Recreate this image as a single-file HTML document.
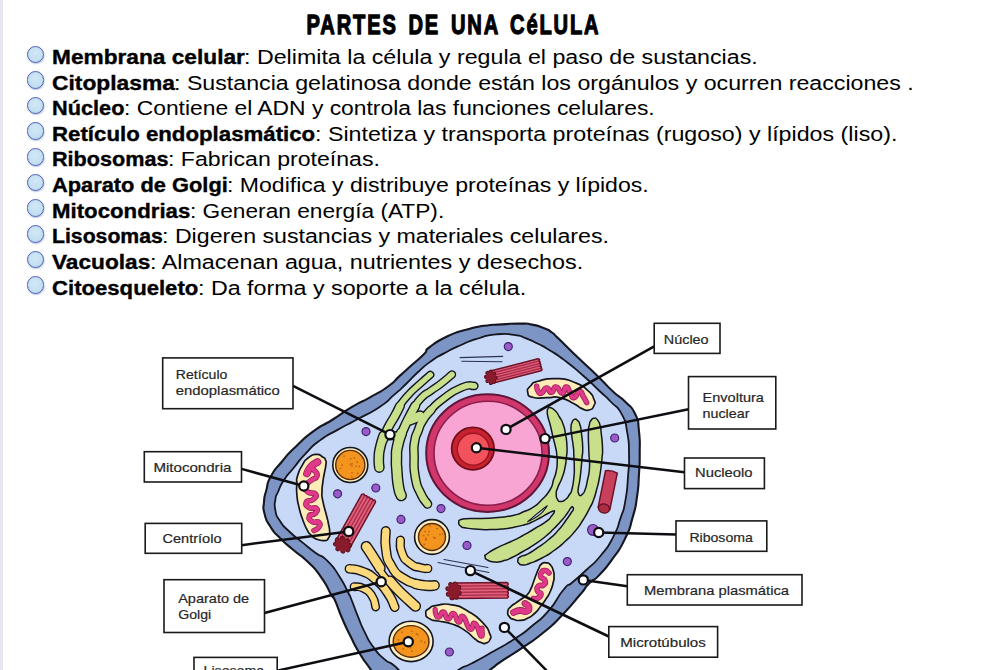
<!DOCTYPE html>
<html lang="es"><head><meta charset="utf-8"><title>Partes de una célula</title>
<style>
html,body{margin:0;padding:0;background:#fff}
#pg{position:relative;width:999px;height:670px;overflow:hidden;background:#fff;font-family:"Liberation Sans",sans-serif;color:#000}
#strip{position:absolute;left:0;top:0;width:3px;height:670px;background:#e6e7ee}
.ln{position:absolute;left:51.6px;height:26px;line-height:26px;font-size:19.5px;white-space:pre}
.ln span{position:absolute;top:0;display:block;transform-origin:0 50%;white-space:pre}
.ln b{font-weight:bold;-webkit-text-stroke:0.35px #000}
.bu{position:absolute;left:26.6px;width:15.6px;height:15.6px;border-radius:50%;border:1.1px solid #4f5bb3;background:radial-gradient(circle at 50% 40%,#d2e9f6,#b9d9ee);box-shadow:0.5px 1px 1.5px rgba(120,150,200,.6)}
</style></head>
<body>
<div id="pg">
<div id="strip"></div>
<div class="bu" style="top:45.60px"></div><div class="ln" style="top:43.99px"><span style="left:0;transform:scaleX(1.1633)"><b>Membrana celular</b></span><span style="left:192.9px;transform:scaleX(1.1908)">: Delimita la célula y regula el paso de sustancias.</span></div>
<div class="bu" style="top:71.22px"></div><div class="ln" style="top:69.61px"><span style="left:0;transform:scaleX(1.1693)"><b>Citoplasma</b></span><span style="left:122.9px;transform:scaleX(1.1888)">: Sustancia gelatinosa donde están los orgánulos y ocurren reacciones .</span></div>
<div class="bu" style="top:96.84px"></div><div class="ln" style="top:95.23px"><span style="left:0;transform:scaleX(1.1136)"><b>Núcleo</b></span><span style="left:72.4px;transform:scaleX(1.1713)">: Contiene el ADN y controla las funciones celulares.</span></div>
<div class="bu" style="top:122.46px"></div><div class="ln" style="top:120.85px"><span style="left:0;transform:scaleX(1.1404)"><b>Retículo endoplasmático</b></span><span style="left:263.2px;transform:scaleX(1.1915)">: Sintetiza y transporta proteínas (rugoso) y lípidos (liso).</span></div>
<div class="bu" style="top:148.08px"></div><div class="ln" style="top:146.47px"><span style="left:0;transform:scaleX(1.1084)"><b>Ribosomas</b></span><span style="left:116.5px;transform:scaleX(1.1848)">: Fabrican proteínas.</span></div>
<div class="bu" style="top:173.70px"></div><div class="ln" style="top:172.09px"><span style="left:0;transform:scaleX(1.1190)"><b>Aparato de Golgi</b></span><span style="left:175.8px;transform:scaleX(1.1826)">: Modifica y distribuye proteínas y lípidos.</span></div>
<div class="bu" style="top:199.32px"></div><div class="ln" style="top:197.71px"><span style="left:0;transform:scaleX(1.1397)"><b>Mitocondrias</b></span><span style="left:138.3px;transform:scaleX(1.1630)">: Generan energía (ATP).</span></div>
<div class="bu" style="top:224.94px"></div><div class="ln" style="top:223.33px"><span style="left:0;transform:scaleX(1.0876)"><b>Lisosomas</b></span><span style="left:110.8px;transform:scaleX(1.1885)">: Digeren sustancias y materiales celulares.</span></div>
<div class="bu" style="top:250.56px"></div><div class="ln" style="top:248.95px"><span style="left:0;transform:scaleX(1.1625)"><b>Vacuolas</b></span><span style="left:98.3px;transform:scaleX(1.1964)">: Almacenan agua, nutrientes y desechos.</span></div>
<div class="bu" style="top:276.18px"></div><div class="ln" style="top:274.57px"><span style="left:0;transform:scaleX(1.1347)"><b>Citoesqueleto</b></span><span style="left:146.3px;transform:scaleX(1.1922)">: Da forma y soporte a la célula.</span></div>
<svg id="dg" width="999" height="670" viewBox="0 0 999 670" style="position:absolute;left:0;top:0">
<path d="M430.0,346.8 C438.0,340.8 436.0,341.7 448.0,336.0 C460.0,330.3 454.0,333.2 466.0,329.8 C478.0,326.4 472.0,327.6 484.0,325.8 C496.0,324.0 490.0,325.1 502.0,324.4 C514.0,323.7 510.0,323.5 520.0,323.6 C530.0,323.7 524.0,323.1 532.0,324.6 C540.0,326.1 537.3,325.6 544.0,328.2 C550.7,330.8 547.0,328.9 552.0,332.5 C557.0,336.1 550.2,330.5 559.0,339.0 C567.8,347.5 565.5,345.5 578.5,358.0 C591.5,370.5 586.5,365.3 598.0,376.5 C609.5,387.7 603.8,383.0 613.0,391.5 C622.2,400.0 618.1,394.4 625.5,402.0 C632.9,409.6 630.8,404.8 635.3,414.3 C639.8,423.8 637.4,417.3 638.9,430.5 C640.4,443.7 639.7,438.9 639.7,453.8 C639.7,468.7 639.8,461.0 638.9,475.3 C638.0,489.6 639.1,482.6 637.0,496.8 C634.9,511.0 636.5,503.9 632.5,517.9 C628.5,531.9 631.5,525.4 625.0,538.8 C618.5,552.2 621.4,546.3 613.0,558.2 C604.6,570.1 607.7,566.1 599.7,574.6 C591.7,583.1 595.6,576.9 589.0,583.6 C582.4,590.3 589.0,584.3 580.0,594.8 C571.0,605.3 574.1,602.8 562.1,615.2 C550.1,627.6 557.3,621.2 544.1,632.0 C530.9,642.8 536.5,638.1 522.5,647.7 C508.5,657.3 512.8,653.5 502.0,660.9 C491.2,668.3 500.7,661.9 490.0,669.9 C479.3,677.9 505.0,678.3 470.0,685.0 C435.0,691.7 418.1,695.1 385.0,690.0 C351.9,684.9 379.1,681.7 370.8,669.7 C362.5,657.7 366.8,665.2 360.0,654.0 C353.2,642.8 356.4,648.0 350.4,636.0 C344.4,624.0 347.2,630.0 342.0,618.0 C336.8,606.0 338.5,607.9 334.8,600.0 C331.1,592.1 335.5,601.9 331.0,594.4 C326.5,586.9 329.1,588.4 321.4,577.6 C313.7,566.8 317.3,571.2 308.0,562.0 C298.7,552.8 302.7,558.0 293.4,550.0 C284.1,542.0 287.6,545.7 280.0,538.0 C272.4,530.3 275.7,535.0 270.6,527.0 C265.5,519.0 266.8,522.3 264.6,514.0 C262.4,505.7 263.4,510.0 264.0,502.0 C264.6,494.0 264.1,498.5 266.4,490.0 C268.7,481.5 265.7,485.8 270.8,476.5 C275.9,467.2 273.2,472.0 281.6,462.0 C290.0,452.0 285.2,456.8 296.0,446.4 C306.8,436.0 302.0,439.6 314.0,430.8 C326.0,422.0 319.3,428.0 332.0,420.0 C344.7,412.0 339.3,414.5 352.0,406.9 C364.7,399.3 358.0,404.1 370.0,397.3 C382.0,390.5 378.0,393.7 388.0,386.5 C398.0,379.3 392.0,382.8 400.0,375.6 C408.0,368.4 404.1,372.0 412.1,364.8 C420.1,357.6 418.1,360.0 424.1,354.0 C430.1,348.0 422.0,352.8 430.0,346.8 Z" fill="#7d95c5" stroke="#15161f" stroke-width="2.1" stroke-linejoin="round"/>
<path d="M431.0,361.2 C439.6,355.0 434.3,358.6 444.0,353.4 C453.7,348.2 448.7,350.5 460.0,345.5 C471.3,340.5 466.0,342.2 478.0,338.5 C490.0,334.8 484.0,335.6 496.0,334.4 C508.0,333.2 504.0,333.5 514.0,334.8 C524.0,336.1 518.0,335.4 526.0,338.4 C534.0,341.4 530.0,339.8 538.0,343.8 C546.0,347.8 540.8,344.8 550.0,350.5 C559.2,356.2 554.5,352.7 565.5,361.0 C576.5,369.3 571.8,365.7 583.0,375.5 C594.2,385.3 589.7,381.7 599.0,390.5 C608.3,399.3 603.4,394.1 611.0,402.0 C618.6,409.9 616.4,404.2 621.8,414.3 C627.2,424.4 624.8,419.1 627.2,432.3 C629.6,445.5 628.7,439.5 629.0,453.8 C629.3,468.1 629.3,459.8 628.1,475.3 C626.9,490.8 627.9,486.2 625.4,500.4 C622.9,514.6 624.7,505.6 620.6,517.9 C616.5,530.2 619.5,524.9 613.0,537.3 C606.5,549.7 609.9,544.3 601.0,555.2 C592.1,566.1 595.7,561.1 586.3,570.0 C576.9,578.9 580.5,575.3 572.8,582.0 C565.1,588.7 571.3,580.5 563.3,590.0 C555.3,599.5 559.3,598.4 548.9,610.4 C538.5,622.4 543.6,616.4 532.0,626.0 C520.4,635.6 526.8,630.8 514.0,639.2 C501.2,647.6 507.6,643.3 493.6,651.3 C479.6,659.3 483.5,657.2 472.0,663.3 C460.5,669.4 469.0,663.3 459.0,669.5 C449.0,675.7 456.7,675.8 442.0,682.0 C427.3,688.2 429.9,692.5 415.0,688.0 C400.1,683.5 407.6,678.2 397.3,668.5 C387.0,658.8 392.0,666.1 384.0,658.9 C376.0,651.7 379.6,655.6 373.2,646.8 C366.8,638.0 370.0,642.8 364.8,632.4 C359.6,622.0 362.0,626.4 357.6,615.6 C353.2,604.8 354.8,607.9 351.6,600.0 C348.4,592.1 352.0,599.9 347.9,592.0 C343.8,584.1 346.2,586.8 339.4,576.4 C332.6,566.0 335.5,568.8 327.4,560.8 C319.3,552.8 323.1,558.5 315.0,552.5 C306.9,546.5 311.4,549.7 303.0,542.9 C294.6,536.1 297.5,539.3 289.8,532.0 C282.1,524.7 284.8,528.2 280.0,521.0 C275.2,513.8 276.9,517.5 275.4,510.4 C273.9,503.3 274.5,505.7 275.4,499.6 C276.3,493.5 275.1,498.5 278.0,492.0 C280.9,485.5 278.8,488.0 284.0,480.0 C289.2,472.0 286.4,476.8 293.6,468.0 C300.8,459.2 296.8,462.8 305.6,453.6 C314.4,444.4 309.2,448.4 320.0,440.4 C330.8,432.4 326.0,436.4 338.0,429.6 C350.0,422.8 342.1,427.6 356.0,420.0 C369.9,412.4 366.9,415.3 379.6,406.9 C392.3,398.5 385.2,402.5 394.0,394.9 C402.8,387.3 398.0,391.6 406.0,384.0 C414.0,376.4 409.8,379.6 418.1,372.0 C426.4,364.4 422.4,367.4 431.0,361.2 Z" fill="#c8d9f7" stroke="#15161f" stroke-width="1.8" stroke-linejoin="round"/>
<path d="M430.3,374.8 C427.5,377.3 429.7,375.0 421.8,382.3 C413.9,389.6 414.6,387.8 406.7,396.7 C398.8,405.6 400.9,404.9 398.0,409.0" fill="none" stroke="#15161f" stroke-width="8.2" stroke-linecap="round" stroke-linejoin="round"/>
<path d="M400.0,406.0 C398.3,409.3 399.0,408.5 395.0,415.8 C391.0,423.1 392.0,419.9 388.0,428.0 C384.0,436.1 384.7,436.0 383.0,440.0" fill="none" stroke="#15161f" stroke-width="10.0" stroke-linecap="round" stroke-linejoin="round"/>
<path d="M383.5,436.0 C382.4,439.7 381.9,439.7 380.3,447.0 C378.7,454.3 379.1,451.2 378.8,458.0 C378.5,464.8 379.1,464.3 379.3,467.5" fill="none" stroke="#15161f" stroke-width="10.8" stroke-linecap="round" stroke-linejoin="round"/>
<path d="M452.0,374.5 C448.5,377.4 448.4,377.8 441.5,383.2 C434.6,388.6 438.0,385.7 431.2,390.6 C424.4,395.5 427.1,391.9 421.2,398.0 C415.3,404.1 416.0,405.3 413.4,409.0" fill="none" stroke="#15161f" stroke-width="8.4" stroke-linecap="round" stroke-linejoin="round"/>
<path d="M415.2,406.0 C412.8,410.5 412.5,410.5 408.0,419.5 C403.5,428.5 403.9,428.5 401.8,433.0" fill="none" stroke="#15161f" stroke-width="10.2" stroke-linecap="round" stroke-linejoin="round"/>
<path d="M401.5,433.0 C400.2,437.3 399.3,437.7 397.6,446.0 C395.9,454.3 396.7,449.3 396.5,458.0 C396.3,466.7 396.3,462.3 397.0,472.0 C397.7,481.7 397.2,479.2 398.6,487.0 C400.0,494.8 400.3,492.7 401.2,495.5" fill="none" stroke="#15161f" stroke-width="11.6" stroke-linecap="round" stroke-linejoin="round"/>
<path d="M474.3,385.9 C470.0,386.5 472.1,383.1 461.4,387.6 C450.7,392.1 452.8,391.7 442.3,399.5 C431.8,407.3 434.1,407.2 430.0,411.0" fill="none" stroke="#15161f" stroke-width="8.6" stroke-linecap="round" stroke-linejoin="round"/>
<path d="M431.0,410.0 C428.3,413.3 427.3,413.0 423.0,420.0 C418.7,427.0 420.8,423.7 418.0,431.0 C415.2,438.3 415.9,433.7 414.6,442.0 C413.3,450.3 413.9,444.4 414.1,456.0 C414.3,467.6 413.1,464.4 415.2,476.7 C417.3,489.0 416.4,483.9 420.5,493.0 C424.6,502.1 425.2,500.3 427.5,504.0" fill="none" stroke="#15161f" stroke-width="9.6" stroke-linecap="round" stroke-linejoin="round"/>
<path d="M386.0,436.0 C390.3,435.8 394.7,435.7 399.0,435.5" fill="none" stroke="#15161f" stroke-width="8.8" stroke-linecap="round" stroke-linejoin="round"/>
<path d="M410.0,420.0 C413.3,418.7 416.7,417.3 420.0,416.0" fill="none" stroke="#15161f" stroke-width="11.4" stroke-linecap="round" stroke-linejoin="round"/>
<path d="M430.3,374.8 C427.5,377.3 429.7,375.0 421.8,382.3 C413.9,389.6 414.6,387.8 406.7,396.7 C398.8,405.6 400.9,404.9 398.0,409.0" fill="none" stroke="#c8df8b" stroke-width="5.4" stroke-linecap="round" stroke-linejoin="round"/>
<path d="M400.0,406.0 C398.3,409.3 399.0,408.5 395.0,415.8 C391.0,423.1 392.0,419.9 388.0,428.0 C384.0,436.1 384.7,436.0 383.0,440.0" fill="none" stroke="#c8df8b" stroke-width="7.2" stroke-linecap="round" stroke-linejoin="round"/>
<path d="M383.5,436.0 C382.4,439.7 381.9,439.7 380.3,447.0 C378.7,454.3 379.1,451.2 378.8,458.0 C378.5,464.8 379.1,464.3 379.3,467.5" fill="none" stroke="#c8df8b" stroke-width="8.0" stroke-linecap="round" stroke-linejoin="round"/>
<path d="M452.0,374.5 C448.5,377.4 448.4,377.8 441.5,383.2 C434.6,388.6 438.0,385.7 431.2,390.6 C424.4,395.5 427.1,391.9 421.2,398.0 C415.3,404.1 416.0,405.3 413.4,409.0" fill="none" stroke="#c8df8b" stroke-width="5.6" stroke-linecap="round" stroke-linejoin="round"/>
<path d="M415.2,406.0 C412.8,410.5 412.5,410.5 408.0,419.5 C403.5,428.5 403.9,428.5 401.8,433.0" fill="none" stroke="#c8df8b" stroke-width="7.4" stroke-linecap="round" stroke-linejoin="round"/>
<path d="M401.5,433.0 C400.2,437.3 399.3,437.7 397.6,446.0 C395.9,454.3 396.7,449.3 396.5,458.0 C396.3,466.7 396.3,462.3 397.0,472.0 C397.7,481.7 397.2,479.2 398.6,487.0 C400.0,494.8 400.3,492.7 401.2,495.5" fill="none" stroke="#c8df8b" stroke-width="8.8" stroke-linecap="round" stroke-linejoin="round"/>
<path d="M474.3,385.9 C470.0,386.5 472.1,383.1 461.4,387.6 C450.7,392.1 452.8,391.7 442.3,399.5 C431.8,407.3 434.1,407.2 430.0,411.0" fill="none" stroke="#c8df8b" stroke-width="5.8" stroke-linecap="round" stroke-linejoin="round"/>
<path d="M431.0,410.0 C428.3,413.3 427.3,413.0 423.0,420.0 C418.7,427.0 420.8,423.7 418.0,431.0 C415.2,438.3 415.9,433.7 414.6,442.0 C413.3,450.3 413.9,444.4 414.1,456.0 C414.3,467.6 413.1,464.4 415.2,476.7 C417.3,489.0 416.4,483.9 420.5,493.0 C424.6,502.1 425.2,500.3 427.5,504.0" fill="none" stroke="#c8df8b" stroke-width="6.8" stroke-linecap="round" stroke-linejoin="round"/>
<path d="M386.0,436.0 C390.3,435.8 394.7,435.7 399.0,435.5" fill="none" stroke="#c8df8b" stroke-width="6.0" stroke-linecap="round" stroke-linejoin="round"/>
<path d="M410.0,420.0 C413.3,418.7 416.7,417.3 420.0,416.0" fill="none" stroke="#c8df8b" stroke-width="8.6" stroke-linecap="round" stroke-linejoin="round"/>
<path d="M549.8,407.5 C552.1,408.1 551.8,407.3 555.0,410.5 C558.2,413.7 556.8,412.5 559.5,417.0 C562.2,421.5 561.0,418.3 563.0,424.0 C565.0,429.7 564.2,426.3 565.5,434.0 C566.8,441.7 566.7,439.0 567.0,447.0 C567.3,455.0 567.0,451.2 566.3,458.0 C565.6,464.8 566.4,460.8 565.0,467.5 C563.6,474.2 564.4,471.3 562.0,478.0 C559.6,484.7 559.7,482.2 557.8,487.5 C555.9,492.8 556.3,490.1 556.2,494.0 C556.1,497.9 556.1,496.8 557.5,499.3 C558.9,501.8 557.8,501.4 560.5,501.5 C563.2,501.6 562.5,501.8 565.5,499.5 C568.5,497.2 567.3,498.0 569.5,494.5 C571.7,491.0 570.6,494.5 572.0,489.0 C573.4,483.5 573.0,485.2 573.8,478.0 C574.6,470.8 574.3,475.2 574.3,467.5 C574.3,459.8 574.1,461.7 573.8,455.0 C573.5,448.3 574.1,453.8 573.4,447.5 C572.7,441.2 572.6,442.5 571.8,436.0 C571.0,429.5 570.9,432.5 571.0,428.0 C571.1,423.5 570.9,425.4 572.0,422.5 C573.1,419.6 572.6,420.1 574.4,419.4 C576.2,418.7 575.6,418.6 577.5,420.5 C579.4,422.4 578.7,420.8 580.0,425.0 C581.3,429.2 580.5,425.5 581.4,433.0 C582.3,440.5 582.5,439.2 582.7,447.5 C582.9,455.8 582.5,451.3 582.0,458.0 C581.5,464.7 581.9,460.2 581.2,467.5 C580.5,474.8 580.8,472.8 579.8,480.0 C578.8,487.2 578.6,484.5 578.2,489.0 C577.8,493.5 577.9,491.4 578.6,493.6 C579.3,495.8 579.0,495.5 580.3,495.6 C581.6,495.7 580.9,495.9 582.5,494.0 C584.1,492.1 583.3,494.7 585.0,490.0 C586.7,485.3 586.0,487.5 587.5,480.0 C589.0,472.5 589.0,475.8 589.5,467.5 C590.0,459.2 589.3,461.7 589.0,455.0 C588.7,448.3 588.9,454.8 588.7,447.5 C588.5,440.2 588.2,440.5 588.4,433.0 C588.6,425.5 588.4,429.2 589.3,425.0 C590.2,420.8 589.4,422.7 591.0,420.5 C592.6,418.3 591.8,418.5 594.0,418.3 C596.2,418.1 595.4,417.4 597.5,420.0 C599.6,422.6 599.0,421.7 600.2,426.0 C601.4,430.3 600.4,425.8 601.2,433.0 C602.0,440.2 602.2,439.2 602.5,447.5 C602.8,455.8 602.5,451.3 602.0,458.0 C601.5,464.7 602.0,460.2 601.0,467.5 C600.0,474.8 600.5,472.5 599.0,480.0 C597.5,487.5 598.3,483.3 596.5,490.0 C594.7,496.7 595.9,493.7 593.5,500.0 C591.1,506.3 592.8,502.1 589.3,508.8 C585.8,515.5 587.8,512.5 583.0,520.0 C578.2,527.5 581.0,524.0 575.0,531.2 C569.0,538.4 572.0,535.1 565.0,541.5 C558.0,547.9 561.7,545.0 554.0,550.5 C546.3,556.0 550.0,553.7 542.0,558.0 C534.0,562.3 536.3,561.0 530.0,563.3 C523.7,565.6 526.7,565.0 523.0,565.0 C519.3,565.0 520.5,564.9 518.8,563.2 C517.1,561.5 517.6,562.1 518.0,560.0 C518.4,557.9 516.7,559.1 520.0,557.0 C523.3,554.9 522.0,557.0 528.0,553.8 C534.0,550.6 531.0,552.1 538.0,547.3 C545.0,542.5 542.0,545.2 549.0,539.3 C556.0,533.4 553.2,535.9 558.9,529.6 C564.6,523.3 562.0,525.8 566.0,520.3 C570.0,514.8 568.6,516.6 571.0,513.0 C573.4,509.4 572.7,511.4 573.3,509.5 C573.9,507.6 573.6,507.9 572.8,507.3 C572.0,506.7 572.8,505.9 571.0,507.8 C569.2,509.7 570.5,508.9 567.5,513.0 C564.5,517.1 566.5,514.8 562.0,520.0 C557.5,525.2 559.3,523.2 554.0,528.5 C548.7,533.8 552.7,530.6 546.0,536.0 C539.3,541.4 542.0,539.5 534.0,544.8 C526.0,550.1 529.3,547.8 522.0,552.0 C514.7,556.2 518.4,554.5 512.0,557.5 C505.6,560.5 508.8,559.4 502.8,560.9 C496.8,562.4 499.1,562.3 494.0,562.0 C488.9,561.7 490.4,561.7 487.5,560.0 C484.6,558.3 485.2,559.1 485.2,556.9 C485.2,554.7 483.2,556.7 487.5,553.5 C491.8,550.3 490.5,551.1 498.0,547.3 C505.5,543.5 502.0,545.8 510.0,542.0 C518.0,538.2 514.0,540.3 522.0,536.0 C530.0,531.7 526.0,533.8 534.0,529.0 C542.0,524.2 540.2,525.9 546.0,521.6 C551.8,517.3 548.7,519.3 551.5,516.0 C554.3,512.7 554.0,513.4 554.3,511.8 C554.6,510.2 554.6,510.7 552.5,511.3 C550.4,511.9 552.2,511.3 548.0,513.5 C543.8,515.7 545.3,515.2 540.0,518.0 C534.7,520.8 536.9,519.8 532.0,522.0 C527.1,524.2 531.3,522.8 525.3,524.5 C519.3,526.2 521.8,525.7 514.0,527.2 C506.2,528.7 510.0,528.2 502.0,529.0 C494.0,529.8 498.0,529.5 490.0,529.6 C482.0,529.7 486.0,529.8 478.0,529.3 C470.0,528.8 471.8,529.1 466.0,528.0 C460.2,526.9 462.9,527.9 460.5,526.0 C458.1,524.1 458.6,524.6 458.8,522.4 C459.0,520.2 457.3,520.8 461.0,519.5 C464.7,518.2 463.0,519.0 470.0,518.6 C477.0,518.2 472.7,518.8 482.0,518.4 C491.3,518.0 487.3,518.6 498.0,517.5 C508.7,516.4 505.3,517.2 514.0,515.2 C522.7,513.2 517.6,514.2 524.0,511.5 C530.4,508.8 527.6,510.9 533.3,507.2 C539.0,503.5 535.5,506.2 541.0,500.5 C546.5,494.8 545.7,496.8 549.9,490.0 C554.1,483.2 551.4,486.3 553.5,480.0 C555.6,473.7 555.1,477.0 556.3,471.0 C557.5,465.0 557.0,467.3 557.2,462.0 C557.4,456.7 557.3,459.8 556.8,455.0 C556.3,450.2 556.9,453.5 555.6,447.5 C554.3,441.5 554.7,444.2 553.0,437.0 C551.3,429.8 552.2,432.7 550.5,426.0 C548.8,419.3 549.1,421.8 548.0,417.0 C546.9,412.2 547.3,414.3 547.3,411.5 C547.3,408.7 547.2,409.9 548.0,408.6 C548.8,407.3 547.5,406.9 549.8,407.5 Z" fill="#c8df8b" stroke="#15161f" stroke-width="1.5" stroke-linejoin="round"/>
<path d="M527.5,521.8 Q538,512.5 547.3,505.8 Q541.5,516 527.5,521.8Z" fill="#c8d9f7" stroke="#15161f" stroke-width="1.1" stroke-linejoin="round"/>
<path d="M385.8,531.0 C385.9,537.3 384.1,538.1 386.0,549.8 C387.9,561.5 385.8,556.6 391.4,566.0 C397.0,575.4 393.6,571.7 402.8,578.0 C412.0,584.3 413.6,582.6 419.0,584.9" fill="none" stroke="#15161f" stroke-width="10.0" stroke-linecap="round" stroke-linejoin="round"/>
<path d="M416.0,584.0 C419.3,584.5 419.8,585.1 426.0,585.6 C432.2,586.1 431.7,585.5 434.5,585.4" fill="none" stroke="#15161f" stroke-width="10.8" stroke-linecap="round" stroke-linejoin="round"/>
<path d="M400.4,540.2 C400.9,544.4 398.7,545.1 401.9,552.8 C405.1,560.5 403.9,558.3 410.1,563.3 C416.3,568.3 414.6,566.0 420.5,567.7 C426.4,569.4 425.4,568.2 427.8,568.5" fill="none" stroke="#15161f" stroke-width="9.2" stroke-linecap="round" stroke-linejoin="round"/>
<path d="M366.3,546.6 C369.0,550.7 369.7,551.7 374.3,558.8 C378.9,565.9 378.1,564.9 380.0,568.0" fill="none" stroke="#15161f" stroke-width="11.4" stroke-linecap="round" stroke-linejoin="round"/>
<path d="M377.0,565.0 C379.3,568.5 379.2,569.4 383.9,575.6 C388.6,581.8 388.6,580.9 391.0,583.5" fill="none" stroke="#15161f" stroke-width="8.0" stroke-linecap="round" stroke-linejoin="round"/>
<path d="M390.0,581.0 C392.7,584.0 391.5,583.3 398.2,590.1 C404.9,596.9 404.3,595.9 410.1,601.3 C415.9,606.7 413.7,604.6 415.5,606.2" fill="none" stroke="#15161f" stroke-width="11.2" stroke-linecap="round" stroke-linejoin="round"/>
<path d="M349.5,568.8 C353.8,569.7 353.6,567.9 362.4,571.5 C371.2,575.1 367.4,572.5 375.8,579.7 C384.2,586.9 381.4,584.0 387.7,593.1 C394.0,602.2 392.4,602.4 394.7,607.0" fill="none" stroke="#15161f" stroke-width="9.8" stroke-linecap="round" stroke-linejoin="round"/>
<path d="M354.0,586.6 C357.3,587.3 357.9,585.4 363.9,588.6 C369.9,591.8 368.2,590.0 372.1,596.1 C376.0,602.2 374.5,603.4 375.7,607.0" fill="none" stroke="#15161f" stroke-width="8.8" stroke-linecap="round" stroke-linejoin="round"/>
<path d="M385.8,531.0 C385.9,537.3 384.1,538.1 386.0,549.8 C387.9,561.5 385.8,556.6 391.4,566.0 C397.0,575.4 393.6,571.7 402.8,578.0 C412.0,584.3 413.6,582.6 419.0,584.9" fill="none" stroke="#fcd97c" stroke-width="7.2" stroke-linecap="round" stroke-linejoin="round"/>
<path d="M416.0,584.0 C419.3,584.5 419.8,585.1 426.0,585.6 C432.2,586.1 431.7,585.5 434.5,585.4" fill="none" stroke="#fcd97c" stroke-width="8.0" stroke-linecap="round" stroke-linejoin="round"/>
<path d="M400.4,540.2 C400.9,544.4 398.7,545.1 401.9,552.8 C405.1,560.5 403.9,558.3 410.1,563.3 C416.3,568.3 414.6,566.0 420.5,567.7 C426.4,569.4 425.4,568.2 427.8,568.5" fill="none" stroke="#fcd97c" stroke-width="6.4" stroke-linecap="round" stroke-linejoin="round"/>
<path d="M366.3,546.6 C369.0,550.7 369.7,551.7 374.3,558.8 C378.9,565.9 378.1,564.9 380.0,568.0" fill="none" stroke="#fcd97c" stroke-width="8.6" stroke-linecap="round" stroke-linejoin="round"/>
<path d="M377.0,565.0 C379.3,568.5 379.2,569.4 383.9,575.6 C388.6,581.8 388.6,580.9 391.0,583.5" fill="none" stroke="#fcd97c" stroke-width="5.2" stroke-linecap="round" stroke-linejoin="round"/>
<path d="M390.0,581.0 C392.7,584.0 391.5,583.3 398.2,590.1 C404.9,596.9 404.3,595.9 410.1,601.3 C415.9,606.7 413.7,604.6 415.5,606.2" fill="none" stroke="#fcd97c" stroke-width="8.4" stroke-linecap="round" stroke-linejoin="round"/>
<path d="M349.5,568.8 C353.8,569.7 353.6,567.9 362.4,571.5 C371.2,575.1 367.4,572.5 375.8,579.7 C384.2,586.9 381.4,584.0 387.7,593.1 C394.0,602.2 392.4,602.4 394.7,607.0" fill="none" stroke="#fcd97c" stroke-width="7.0" stroke-linecap="round" stroke-linejoin="round"/>
<path d="M354.0,586.6 C357.3,587.3 357.9,585.4 363.9,588.6 C369.9,591.8 368.2,590.0 372.1,596.1 C376.0,602.2 374.5,603.4 375.7,607.0" fill="none" stroke="#fcd97c" stroke-width="6.0" stroke-linecap="round" stroke-linejoin="round"/>
<ellipse cx="487.6" cy="453.1" rx="61.4" ry="58.8" fill="#d2376c" stroke="#5e1638" stroke-width="2"/>
<ellipse cx="488" cy="453.3" rx="54" ry="52" fill="#f8a5d3" stroke="#8a1f4d" stroke-width="1.6"/>
<circle cx="472.9" cy="448.6" r="21.2" fill="#c8212f" stroke="#6e0f1b" stroke-width="1.8"/>
<circle cx="473.3" cy="449.2" r="16" fill="#f2525c" stroke="#9c1522" stroke-width="1.4"/>
<ellipse cx="350.3" cy="465" rx="17.5" ry="17.5" fill="#fdf0c2" stroke="#15161f" stroke-width="1.6"/>
<ellipse cx="350.3" cy="465" rx="14.600000000000001" ry="14.600000000000001" fill="#f3941f" stroke="#5a2c08" stroke-width="1.4"/>
<circle cx="357.8" cy="473.4" r="0.85" fill="#c0640e"/>
<circle cx="350.8" cy="458.8" r="0.85" fill="#c0640e"/>
<circle cx="342.1" cy="465.2" r="0.85" fill="#c0640e"/>
<circle cx="344.0" cy="456.1" r="0.85" fill="#c0640e"/>
<circle cx="352.0" cy="466.1" r="0.85" fill="#c0640e"/>
<circle cx="354.4" cy="458.1" r="0.85" fill="#c0640e"/>
<circle cx="350.3" cy="464.4" r="0.85" fill="#c0640e"/>
<circle cx="340.5" cy="468.5" r="0.85" fill="#c0640e"/>
<circle cx="351.9" cy="476.8" r="0.85" fill="#c0640e"/>
<circle cx="352.0" cy="463.8" r="0.85" fill="#c0640e"/>
<circle cx="359.2" cy="466.4" r="0.85" fill="#c0640e"/>
<circle cx="357.3" cy="462.2" r="0.85" fill="#c0640e"/>
<circle cx="352.0" cy="472.8" r="0.85" fill="#c0640e"/>
<circle cx="356.0" cy="466.0" r="0.85" fill="#c0640e"/>
<ellipse cx="432" cy="537" rx="17.4" ry="17.4" fill="#fdf0c2" stroke="#15161f" stroke-width="1.6"/>
<ellipse cx="432" cy="537" rx="13.5" ry="13.5" fill="#f3941f" stroke="#5a2c08" stroke-width="1.4"/>
<circle cx="442.6" cy="534.0" r="0.85" fill="#c0640e"/>
<circle cx="435.1" cy="538.2" r="0.85" fill="#c0640e"/>
<circle cx="437.0" cy="528.6" r="0.85" fill="#c0640e"/>
<circle cx="429.0" cy="531.5" r="0.85" fill="#c0640e"/>
<circle cx="425.0" cy="531.5" r="0.85" fill="#c0640e"/>
<circle cx="428.1" cy="534.8" r="0.85" fill="#c0640e"/>
<circle cx="425.5" cy="540.0" r="0.85" fill="#c0640e"/>
<circle cx="430.1" cy="525.8" r="0.85" fill="#c0640e"/>
<circle cx="440.0" cy="534.4" r="0.85" fill="#c0640e"/>
<circle cx="426.5" cy="539.0" r="0.85" fill="#c0640e"/>
<circle cx="433.8" cy="537.4" r="0.85" fill="#c0640e"/>
<circle cx="425.7" cy="538.4" r="0.85" fill="#c0640e"/>
<circle cx="424.2" cy="544.3" r="0.85" fill="#c0640e"/>
<circle cx="423.6" cy="535.6" r="0.85" fill="#c0640e"/>
<ellipse cx="411.1" cy="641.4" rx="22.0" ry="20.2" fill="#fdf0c2" stroke="#15161f" stroke-width="1.6"/>
<ellipse cx="411.1" cy="641.4" rx="17.900000000000002" ry="15.8" fill="#f3941f" stroke="#5a2c08" stroke-width="1.4"/>
<circle cx="411.9" cy="651.1" r="0.85" fill="#c0640e"/>
<circle cx="403.2" cy="648.9" r="0.85" fill="#c0640e"/>
<circle cx="408.4" cy="639.0" r="0.85" fill="#c0640e"/>
<circle cx="424.7" cy="642.4" r="0.85" fill="#c0640e"/>
<circle cx="410.7" cy="647.8" r="0.85" fill="#c0640e"/>
<circle cx="421.3" cy="641.2" r="0.85" fill="#c0640e"/>
<circle cx="416.4" cy="633.6" r="0.85" fill="#c0640e"/>
<circle cx="407.4" cy="637.5" r="0.85" fill="#c0640e"/>
<circle cx="401.9" cy="632.2" r="0.85" fill="#c0640e"/>
<circle cx="398.4" cy="639.8" r="0.85" fill="#c0640e"/>
<circle cx="409.3" cy="638.5" r="0.85" fill="#c0640e"/>
<circle cx="411.7" cy="631.3" r="0.85" fill="#c0640e"/>
<circle cx="410.3" cy="643.6" r="0.85" fill="#c0640e"/>
<circle cx="417.9" cy="634.6" r="0.85" fill="#c0640e"/>
<circle cx="508.3" cy="346.6" r="4" fill="#9a5ac7" stroke="#3f2470" stroke-width="1.2"/>
<circle cx="366" cy="431.6" r="4" fill="#9a5ac7" stroke="#3f2470" stroke-width="1.2"/>
<circle cx="337.6" cy="493.8" r="4" fill="#9a5ac7" stroke="#3f2470" stroke-width="1.2"/>
<circle cx="375.8" cy="488" r="4" fill="#9a5ac7" stroke="#3f2470" stroke-width="1.2"/>
<circle cx="401" cy="519.4" r="4" fill="#9a5ac7" stroke="#3f2470" stroke-width="1.2"/>
<circle cx="441" cy="508.6" r="4" fill="#9a5ac7" stroke="#3f2470" stroke-width="1.2"/>
<circle cx="467" cy="545.4" r="4" fill="#9a5ac7" stroke="#3f2470" stroke-width="1.2"/>
<circle cx="614.7" cy="438" r="4" fill="#9a5ac7" stroke="#3f2470" stroke-width="1.2"/>
<circle cx="567.3" cy="561.6" r="4" fill="#9a5ac7" stroke="#3f2470" stroke-width="1.2"/>
<circle cx="449.4" cy="652" r="4" fill="#9a5ac7" stroke="#3f2470" stroke-width="1.2"/>
<circle cx="593" cy="529.9" r="5.4" fill="#9a5ac7" stroke="#3f2470" stroke-width="1.2"/>
<line x1="460" y1="357.6" x2="502.7" y2="356.4" stroke="#2b3152" stroke-width="1.1" stroke-linecap="round"/>
<line x1="461.8" y1="361.2" x2="502" y2="361.8" stroke="#2b3152" stroke-width="1.1" stroke-linecap="round"/>
<line x1="438" y1="562.5" x2="489" y2="572.5" stroke="#2b3152" stroke-width="1.1" stroke-linecap="round"/>
<line x1="444" y1="559.5" x2="488" y2="567.5" stroke="#2b3152" stroke-width="1.1" stroke-linecap="round"/>
<path d="M527.7,392.1 C526.9,388.1 527.6,389.1 531.0,385.5 C534.4,381.9 529.7,383.6 538.0,381.3 C546.3,379.0 544.0,378.3 556.0,378.6 C568.0,378.9 563.5,378.3 574.0,382.2 C584.5,386.1 581.0,384.6 587.6,390.3 C594.2,396.0 591.8,394.2 593.9,399.3 C596.0,404.4 595.6,401.9 594.0,405.5 C592.4,409.1 593.0,409.0 589.0,410.0 C585.0,411.0 587.0,410.7 582.0,408.6 C577.0,406.5 581.2,407.4 574.0,403.8 C566.8,400.2 569.5,399.9 560.5,397.8 C551.5,395.7 556.0,397.7 547.0,397.6 C538.0,397.5 539.9,399.3 533.5,397.5 C527.1,395.7 528.5,396.1 527.7,392.1 Z" fill="#fdebb8" stroke="#15161f" stroke-width="1.7" stroke-linejoin="round"/>
<path d="M536.7,386.2 C537.1,387.8 536.4,388.7 538.0,391.0 C539.6,393.3 538.7,394.2 541.5,393.2 C544.3,392.2 543.2,388.3 546.5,388.0 C549.8,387.7 548.3,392.7 551.5,392.3 C554.7,391.9 552.4,386.6 556.0,386.9 C559.6,387.2 559.0,393.2 562.3,393.2 C565.6,393.2 563.4,387.4 566.0,387.0 C568.6,386.6 567.3,388.4 570.0,392.0 C572.7,395.6 570.8,397.9 574.0,397.7 C577.2,397.5 576.3,391.7 579.5,391.5 C582.7,391.3 581.1,393.3 583.5,397.0 C585.9,400.7 585.6,400.7 586.7,402.6" fill="none" stroke="#9c1f57" stroke-width="5.4" stroke-linecap="round" stroke-linejoin="round"/>
<path d="M536.7,386.2 C537.1,387.8 536.4,388.7 538.0,391.0 C539.6,393.3 538.7,394.2 541.5,393.2 C544.3,392.2 543.2,388.3 546.5,388.0 C549.8,387.7 548.3,392.7 551.5,392.3 C554.7,391.9 552.4,386.6 556.0,386.9 C559.6,387.2 559.0,393.2 562.3,393.2 C565.6,393.2 563.4,387.4 566.0,387.0 C568.6,386.6 567.3,388.4 570.0,392.0 C572.7,395.6 570.8,397.9 574.0,397.7 C577.2,397.5 576.3,391.7 579.5,391.5 C582.7,391.3 581.1,393.3 583.5,397.0 C585.9,400.7 585.6,400.7 586.7,402.6" fill="none" stroke="#e0398a" stroke-width="3.8" stroke-linecap="round" stroke-linejoin="round"/>
<path d="M316.3,454.4 C311.4,454.7 312.7,454.3 308.0,458.0 C303.3,461.7 305.7,459.4 302.2,465.4 C298.7,471.4 299.3,469.7 297.5,476.0 C295.7,482.3 297.0,477.5 296.8,484.2 C296.6,490.9 296.2,488.2 297.0,496.0 C297.8,503.8 297.3,500.0 299.1,507.7 C300.9,515.4 299.9,511.7 302.5,519.0 C305.1,526.3 304.2,524.3 307.0,529.6 C309.8,534.9 307.9,531.9 311.0,535.0 C314.1,538.1 311.9,537.1 316.3,539.0 C320.7,540.9 320.1,540.9 324.2,540.6 C328.3,540.3 326.7,540.6 328.5,538.0 C330.3,535.4 329.7,537.5 329.7,532.8 C329.7,528.1 329.6,529.8 328.5,524.0 C327.4,518.2 328.5,523.5 326.5,515.5 C324.5,507.5 324.1,507.7 322.6,499.9 C321.1,492.1 322.0,497.2 322.0,492.0 C322.0,486.8 321.9,489.9 322.6,484.2 C323.3,478.5 322.9,481.3 324.0,475.0 C325.1,468.7 325.3,470.4 325.8,465.4 C326.3,460.4 326.6,462.8 325.5,460.0 C324.4,457.2 325.7,458.9 322.6,457.0 C319.5,455.1 321.2,454.1 316.3,454.4 Z" fill="#fdebb8" stroke="#15161f" stroke-width="1.7" stroke-linejoin="round"/>
<path d="M307.0,473.5 C308.3,471.2 307.5,470.3 311.0,466.5 C314.5,462.7 315.3,463.5 317.5,462.0" fill="none" stroke="#9c1f57" stroke-width="7.6" stroke-linecap="round" stroke-linejoin="round"/>
<path d="M314.0,470.0 C315.0,472.0 318.0,472.5 317.0,476.0 C316.0,479.5 314.8,477.2 311.0,480.5 C307.2,483.8 306.5,482.2 305.5,486.0 C304.5,489.8 304.7,489.3 308.0,492.0 C311.3,494.7 313.8,491.5 315.5,494.0 C317.2,496.5 316.0,496.8 313.0,499.5 C310.0,502.2 307.8,499.3 306.5,502.0 C305.2,504.7 305.7,505.3 309.0,507.5 C312.3,509.7 314.5,506.5 316.5,508.5 C318.5,510.5 317.3,511.0 315.0,513.5 C312.7,516.0 310.5,513.3 309.5,516.0 C308.5,518.7 308.8,519.3 312.0,521.5 C315.2,523.7 316.8,520.5 319.0,522.5 C321.2,524.5 320.2,524.8 318.5,527.5 C316.8,530.2 315.5,529.5 314.0,530.5" fill="none" stroke="#9c1f57" stroke-width="5.6" stroke-linecap="round" stroke-linejoin="round"/>
<path d="M307.0,473.5 C308.3,471.2 307.5,470.3 311.0,466.5 C314.5,462.7 315.3,463.5 317.5,462.0" fill="none" stroke="#e0398a" stroke-width="6.0" stroke-linecap="round" stroke-linejoin="round"/>
<path d="M314.0,470.0 C315.0,472.0 318.0,472.5 317.0,476.0 C316.0,479.5 314.8,477.2 311.0,480.5 C307.2,483.8 306.5,482.2 305.5,486.0 C304.5,489.8 304.7,489.3 308.0,492.0 C311.3,494.7 313.8,491.5 315.5,494.0 C317.2,496.5 316.0,496.8 313.0,499.5 C310.0,502.2 307.8,499.3 306.5,502.0 C305.2,504.7 305.7,505.3 309.0,507.5 C312.3,509.7 314.5,506.5 316.5,508.5 C318.5,510.5 317.3,511.0 315.0,513.5 C312.7,516.0 310.5,513.3 309.5,516.0 C308.5,518.7 308.8,519.3 312.0,521.5 C315.2,523.7 316.8,520.5 319.0,522.5 C321.2,524.5 320.2,524.8 318.5,527.5 C316.8,530.2 315.5,529.5 314.0,530.5" fill="none" stroke="#e0398a" stroke-width="4.0" stroke-linecap="round" stroke-linejoin="round"/>
<path d="M425.8,613.5 C425.6,609.9 425.8,611.0 429.5,608.3 C433.2,605.6 429.5,606.6 437.0,605.4 C444.5,604.2 441.7,602.9 452.0,604.8 C462.3,606.7 457.9,605.3 468.0,611.2 C478.1,617.1 475.2,614.9 482.4,622.4 C489.6,629.9 487.2,627.9 489.7,633.6 C492.2,639.3 491.2,636.4 490.0,639.5 C488.8,642.6 489.0,642.0 486.0,643.0 C483.0,644.0 484.7,643.8 481.0,642.5 C477.3,641.2 480.4,643.0 475.0,639.0 C469.6,635.0 472.5,635.4 464.8,630.4 C457.1,625.4 460.9,627.1 452.0,624.0 C443.1,620.9 445.3,622.7 438.0,621.0 C430.7,619.3 434.1,621.5 430.0,619.0 C425.9,616.5 426.0,617.1 425.8,613.5 Z" fill="#fdebb8" stroke="#15161f" stroke-width="1.7" stroke-linejoin="round"/>
<path d="M435.2,609.6 C435.5,611.2 434.7,612.0 436.0,614.5 C437.3,617.0 436.5,617.8 439.0,617.0 C441.5,616.2 440.5,611.3 443.5,612.0 C446.5,612.7 444.7,618.5 448.0,619.0 C451.3,619.5 450.0,612.5 453.5,613.5 C457.0,614.5 455.3,621.0 458.5,622.0 C461.7,623.0 459.2,614.2 463.0,616.5 C466.8,618.8 466.0,626.7 470.0,629.0 C474.0,631.3 471.3,621.2 475.0,623.5 C478.7,625.8 478.7,634.5 481.0,636.0 C483.3,637.5 481.7,630.7 482.0,628.0" fill="none" stroke="#9c1f57" stroke-width="5.2" stroke-linecap="round" stroke-linejoin="round"/>
<path d="M435.2,609.6 C435.5,611.2 434.7,612.0 436.0,614.5 C437.3,617.0 436.5,617.8 439.0,617.0 C441.5,616.2 440.5,611.3 443.5,612.0 C446.5,612.7 444.7,618.5 448.0,619.0 C451.3,619.5 450.0,612.5 453.5,613.5 C457.0,614.5 455.3,621.0 458.5,622.0 C461.7,623.0 459.2,614.2 463.0,616.5 C466.8,618.8 466.0,626.7 470.0,629.0 C474.0,631.3 471.3,621.2 475.0,623.5 C478.7,625.8 478.7,634.5 481.0,636.0 C483.3,637.5 481.7,630.7 482.0,628.0" fill="none" stroke="#e0398a" stroke-width="3.6" stroke-linecap="round" stroke-linejoin="round"/>
<path d="M546.0,562.8 C549.0,563.1 548.1,562.4 550.5,565.0 C552.9,567.6 552.1,566.9 553.3,570.7 C554.5,574.5 554.0,572.7 554.0,576.5 C554.0,580.3 554.5,577.4 553.3,582.2 C552.1,587.0 552.9,585.4 550.5,591.0 C548.1,596.6 549.3,593.7 546.0,598.9 C542.7,604.1 544.3,601.6 540.5,606.5 C536.7,611.4 538.7,609.7 534.5,613.5 C530.3,617.3 532.5,615.7 528.0,618.0 C523.5,620.3 525.6,619.8 520.9,620.3 C516.2,620.8 517.8,620.7 514.0,619.5 C510.2,618.3 511.5,619.4 509.4,616.7 C507.3,614.0 507.3,614.8 507.8,611.4 C508.3,608.0 508.4,609.3 511.0,606.5 C513.6,603.7 512.2,605.6 515.7,603.1 C519.2,600.6 517.7,601.8 521.5,599.0 C525.3,596.2 524.0,598.2 527.2,594.7 C530.4,591.2 528.9,592.7 531.0,588.5 C533.1,584.3 531.7,586.7 533.4,582.2 C535.1,577.7 534.2,579.5 536.0,575.0 C537.8,570.5 536.9,572.3 538.7,568.6 C540.5,564.9 539.1,565.9 541.5,564.0 C543.9,562.1 543.0,562.5 546.0,562.8 Z" fill="#fdebb8" stroke="#15161f" stroke-width="1.7" stroke-linejoin="round"/>
<path d="M549.0,573.0 C547.8,572.2 548.0,570.7 545.5,570.5 C543.0,570.3 543.0,570.3 541.5,572.5 C540.0,574.7 539.8,574.3 541.0,577.0 C542.2,579.7 544.2,577.8 545.0,580.5 C545.8,583.2 545.7,583.2 543.5,585.0 C541.3,586.8 540.5,584.0 538.5,586.0 C536.5,588.0 536.7,588.3 537.5,591.0 C538.3,593.7 540.8,591.7 541.0,594.0 C541.2,596.3 540.5,596.5 538.0,598.0 C535.5,599.5 535.0,598.3 533.5,598.5" fill="none" stroke="#9c1f57" stroke-width="5.6" stroke-linecap="round" stroke-linejoin="round"/>
<path d="M513.5,612.5 C515.7,611.8 515.8,610.8 520.0,610.5 C524.2,610.2 523.0,612.5 526.0,611.5 C529.0,610.5 529.3,610.2 529.0,607.5 C528.7,604.8 526.3,604.8 525.0,603.5" fill="none" stroke="#9c1f57" stroke-width="6.800000000000001" stroke-linecap="round" stroke-linejoin="round"/>
<path d="M549.0,573.0 C547.8,572.2 548.0,570.7 545.5,570.5 C543.0,570.3 543.0,570.3 541.5,572.5 C540.0,574.7 539.8,574.3 541.0,577.0 C542.2,579.7 544.2,577.8 545.0,580.5 C545.8,583.2 545.7,583.2 543.5,585.0 C541.3,586.8 540.5,584.0 538.5,586.0 C536.5,588.0 536.7,588.3 537.5,591.0 C538.3,593.7 540.8,591.7 541.0,594.0 C541.2,596.3 540.5,596.5 538.0,598.0 C535.5,599.5 535.0,598.3 533.5,598.5" fill="none" stroke="#e0398a" stroke-width="4.0" stroke-linecap="round" stroke-linejoin="round"/>
<path d="M513.5,612.5 C515.7,611.8 515.8,610.8 520.0,610.5 C524.2,610.2 523.0,612.5 526.0,611.5 C529.0,610.5 529.3,610.2 529.0,607.5 C528.7,604.8 526.3,604.8 525.0,603.5" fill="none" stroke="#e0398a" stroke-width="5.2" stroke-linecap="round" stroke-linejoin="round"/>
<g transform="translate(490.8,377.3) rotate(-14.41)">
<path d="M0,-6.20 L50.3,-6.20 Q53.0,-4.96 50.3,-3.72 Q53.0,-2.48 50.3,-1.24 Q53.0,0.00 50.3,1.24 Q53.0,2.48 50.3,3.72 Q53.0,4.96 50.3,6.20 L0,6.20 Z" fill="#e0607a" stroke="#6b1329" stroke-width="1.5" stroke-linejoin="round"/>
<line x1="2" y1="-3.72" x2="50.3" y2="-3.72" stroke="#a52a49" stroke-width="1.3"/>
<line x1="2" y1="-1.24" x2="50.3" y2="-1.24" stroke="#a52a49" stroke-width="1.3"/>
<line x1="2" y1="1.24" x2="50.3" y2="1.24" stroke="#a52a49" stroke-width="1.3"/>
<line x1="2" y1="3.72" x2="50.3" y2="3.72" stroke="#a52a49" stroke-width="1.3"/>
<circle cx="4.48" cy="1.69" r="1.61" fill="#8a1b2c" stroke="#5a0f1f" stroke-width="1.0"/>
<circle cx="2.19" cy="5.05" r="1.61" fill="#8a1b2c" stroke="#5a0f1f" stroke-width="1.0"/>
<circle cx="-1.39" cy="5.45" r="1.61" fill="#8a1b2c" stroke="#5a0f1f" stroke-width="1.0"/>
<circle cx="-4.15" cy="2.66" r="1.61" fill="#8a1b2c" stroke="#5a0f1f" stroke-width="1.0"/>
<circle cx="-4.48" cy="-1.69" r="1.61" fill="#8a1b2c" stroke="#5a0f1f" stroke-width="1.0"/>
<circle cx="-2.19" cy="-5.05" r="1.61" fill="#8a1b2c" stroke="#5a0f1f" stroke-width="1.0"/>
<circle cx="1.39" cy="-5.45" r="1.61" fill="#8a1b2c" stroke="#5a0f1f" stroke-width="1.0"/>
<circle cx="4.15" cy="-2.66" r="1.61" fill="#8a1b2c" stroke="#5a0f1f" stroke-width="1.0"/>
<ellipse cx="0" cy="0" rx="4.8" ry="5.8" fill="#8a1b2c" stroke="none" stroke-width="1.2"/>
</g>
<g transform="translate(342.6,544.8) rotate(-60.81)">
<path d="M0,-7.90 L53.3,-7.90 Q56.0,-6.32 53.3,-4.74 Q56.0,-3.16 53.3,-1.58 Q56.0,0.00 53.3,1.58 Q56.0,3.16 53.3,4.74 Q56.0,6.32 53.3,7.90 L0,7.90 Z" fill="#e0607a" stroke="#6b1329" stroke-width="1.5" stroke-linejoin="round"/>
<line x1="2" y1="-4.74" x2="53.3" y2="-4.74" stroke="#a52a49" stroke-width="1.3"/>
<line x1="2" y1="-1.58" x2="53.3" y2="-1.58" stroke="#a52a49" stroke-width="1.3"/>
<line x1="2" y1="1.58" x2="53.3" y2="1.58" stroke="#a52a49" stroke-width="1.3"/>
<line x1="2" y1="4.74" x2="53.3" y2="4.74" stroke="#a52a49" stroke-width="1.3"/>
<circle cx="5.71" cy="2.15" r="2.05" fill="#8a1b2c" stroke="#5a0f1f" stroke-width="1.0"/>
<circle cx="2.79" cy="6.43" r="2.05" fill="#8a1b2c" stroke="#5a0f1f" stroke-width="1.0"/>
<circle cx="-1.76" cy="6.94" r="2.05" fill="#8a1b2c" stroke="#5a0f1f" stroke-width="1.0"/>
<circle cx="-5.28" cy="3.39" r="2.05" fill="#8a1b2c" stroke="#5a0f1f" stroke-width="1.0"/>
<circle cx="-5.71" cy="-2.15" r="2.05" fill="#8a1b2c" stroke="#5a0f1f" stroke-width="1.0"/>
<circle cx="-2.79" cy="-6.43" r="2.05" fill="#8a1b2c" stroke="#5a0f1f" stroke-width="1.0"/>
<circle cx="1.76" cy="-6.94" r="2.05" fill="#8a1b2c" stroke="#5a0f1f" stroke-width="1.0"/>
<circle cx="5.28" cy="-3.39" r="2.05" fill="#8a1b2c" stroke="#5a0f1f" stroke-width="1.0"/>
<ellipse cx="0" cy="0" rx="6.1" ry="7.4" fill="#8a1b2c" stroke="none" stroke-width="1.2"/>
</g>
<g transform="translate(453.5,590.8) rotate(-0.63)">
<path d="M0,-7.80 L53.5,-7.80 Q56.2,-6.24 53.5,-4.68 Q56.2,-3.12 53.5,-1.56 Q56.2,0.00 53.5,1.56 Q56.2,3.12 53.5,4.68 Q56.2,6.24 53.5,7.80 L0,7.80 Z" fill="#e0607a" stroke="#6b1329" stroke-width="1.5" stroke-linejoin="round"/>
<line x1="2" y1="-4.68" x2="53.5" y2="-4.68" stroke="#a52a49" stroke-width="1.3"/>
<line x1="2" y1="-1.56" x2="53.5" y2="-1.56" stroke="#a52a49" stroke-width="1.3"/>
<line x1="2" y1="1.56" x2="53.5" y2="1.56" stroke="#a52a49" stroke-width="1.3"/>
<line x1="2" y1="4.68" x2="53.5" y2="4.68" stroke="#a52a49" stroke-width="1.3"/>
<circle cx="5.63" cy="2.12" r="2.03" fill="#8a1b2c" stroke="#5a0f1f" stroke-width="1.0"/>
<circle cx="2.75" cy="6.35" r="2.03" fill="#8a1b2c" stroke="#5a0f1f" stroke-width="1.0"/>
<circle cx="-1.74" cy="6.86" r="2.03" fill="#8a1b2c" stroke="#5a0f1f" stroke-width="1.0"/>
<circle cx="-5.22" cy="3.35" r="2.03" fill="#8a1b2c" stroke="#5a0f1f" stroke-width="1.0"/>
<circle cx="-5.63" cy="-2.12" r="2.03" fill="#8a1b2c" stroke="#5a0f1f" stroke-width="1.0"/>
<circle cx="-2.75" cy="-6.35" r="2.03" fill="#8a1b2c" stroke="#5a0f1f" stroke-width="1.0"/>
<circle cx="1.74" cy="-6.86" r="2.03" fill="#8a1b2c" stroke="#5a0f1f" stroke-width="1.0"/>
<circle cx="5.22" cy="-3.35" r="2.03" fill="#8a1b2c" stroke="#5a0f1f" stroke-width="1.0"/>
<ellipse cx="0" cy="0" rx="6.0" ry="7.3" fill="#8a1b2c" stroke="none" stroke-width="1.2"/>
</g>
<g transform="translate(604,508.5) rotate(-78.54)">
<path d="M0,-6.0 L37.3,-6.0 Q39.3,0 37.3,6.0 L0,6.0 Z" fill="#c9405c" stroke="#6b1329" stroke-width="1.5" stroke-linejoin="round"/>
<ellipse cx="0" cy="0" rx="4.6" ry="5.6" fill="#ab2c43" stroke="#5a0f1f" stroke-width="1.2"/>
</g>
<line x1="293" y1="385.8" x2="390" y2="434.6" stroke="#0d0d12" stroke-width="2.5" stroke-linecap="butt"/>
<line x1="241.5" y1="468.9" x2="303.8" y2="486" stroke="#0d0d12" stroke-width="2.5" stroke-linecap="butt"/>
<line x1="241.7" y1="545.2" x2="348.7" y2="531.4" stroke="#0d0d12" stroke-width="2.5" stroke-linecap="butt"/>
<line x1="264.5" y1="613" x2="381.2" y2="581.8" stroke="#0d0d12" stroke-width="2.5" stroke-linecap="butt"/>
<line x1="277.2" y1="670.7" x2="408.3" y2="641.7" stroke="#0d0d12" stroke-width="2.5" stroke-linecap="butt"/>
<line x1="654.2" y1="346.3" x2="506" y2="429.4" stroke="#0d0d12" stroke-width="2.5" stroke-linecap="butt"/>
<line x1="688.5" y1="409.2" x2="545" y2="438.6" stroke="#0d0d12" stroke-width="2.5" stroke-linecap="butt"/>
<line x1="684.5" y1="472.2" x2="476.4" y2="447.7" stroke="#0d0d12" stroke-width="2.5" stroke-linecap="butt"/>
<line x1="676" y1="534.4" x2="598.7" y2="532.5" stroke="#0d0d12" stroke-width="2.5" stroke-linecap="butt"/>
<line x1="627.3" y1="586.2" x2="583.3" y2="579.9" stroke="#0d0d12" stroke-width="2.5" stroke-linecap="butt"/>
<line x1="608.8" y1="636.5" x2="470.4" y2="570.6" stroke="#0d0d12" stroke-width="2.5" stroke-linecap="butt"/>
<line x1="504.4" y1="627.4" x2="548" y2="672" stroke="#0d0d12" stroke-width="2.5" stroke-linecap="butt"/>
<circle cx="390" cy="434.6" r="4.6" fill="#fff" stroke="#0d0d12" stroke-width="2.2"/>
<circle cx="303.8" cy="486" r="4.6" fill="#fff" stroke="#0d0d12" stroke-width="2.2"/>
<circle cx="348.7" cy="531.4" r="4.6" fill="#fff" stroke="#0d0d12" stroke-width="2.2"/>
<circle cx="381.2" cy="581.8" r="4.6" fill="#fff" stroke="#0d0d12" stroke-width="2.2"/>
<circle cx="408.3" cy="641.7" r="4.6" fill="#fff" stroke="#0d0d12" stroke-width="2.2"/>
<circle cx="506" cy="429.4" r="4.6" fill="#fff" stroke="#0d0d12" stroke-width="2.2"/>
<circle cx="545" cy="438.6" r="4.6" fill="#fff" stroke="#0d0d12" stroke-width="2.2"/>
<circle cx="476.4" cy="447.7" r="4.6" fill="#fff" stroke="#0d0d12" stroke-width="2.2"/>
<circle cx="598.7" cy="532.5" r="4.6" fill="#fff" stroke="#0d0d12" stroke-width="2.2"/>
<circle cx="583.3" cy="579.9" r="4.6" fill="#fff" stroke="#0d0d12" stroke-width="2.2"/>
<circle cx="470.4" cy="570.6" r="4.6" fill="#fff" stroke="#0d0d12" stroke-width="2.2"/>
<circle cx="504.4" cy="627.4" r="4.6" fill="#fff" stroke="#0d0d12" stroke-width="2.2"/>
<rect x="162.7" y="357.9" width="130.3" height="50.8" fill="#fff" stroke="#1a1a1a" stroke-width="1.6"/>
<rect x="144.3" y="451.7" width="97.2" height="30.3" fill="#fff" stroke="#1a1a1a" stroke-width="1.6"/>
<rect x="145.2" y="523.4" width="96.5" height="29.9" fill="#fff" stroke="#1a1a1a" stroke-width="1.6"/>
<rect x="164" y="579.7" width="100.5" height="52.8" fill="#fff" stroke="#1a1a1a" stroke-width="1.6"/>
<rect x="194" y="657.4" width="83.2" height="42.6" fill="#fff" stroke="#1a1a1a" stroke-width="1.6"/>
<rect x="654.2" y="323.3" width="65.8" height="30.1" fill="#fff" stroke="#1a1a1a" stroke-width="1.6"/>
<rect x="688.5" y="376.6" width="87.3" height="52.4" fill="#fff" stroke="#1a1a1a" stroke-width="1.6"/>
<rect x="684.5" y="458" width="79.9" height="30.6" fill="#fff" stroke="#1a1a1a" stroke-width="1.6"/>
<rect x="676" y="520.9" width="90.8" height="30.4" fill="#fff" stroke="#1a1a1a" stroke-width="1.6"/>
<rect x="627.3" y="574.7" width="174.7" height="30.3" fill="#fff" stroke="#1a1a1a" stroke-width="1.6"/>
<rect x="608.8" y="626.6" width="108.8" height="30.6" fill="#fff" stroke="#1a1a1a" stroke-width="1.6"/>
<g font-family="Liberation Sans, sans-serif" font-size="13.6" fill="#262626" stroke="#262626" stroke-width="0.2">
<text x="175.8" y="378.7" textLength="51.6" lengthAdjust="spacingAndGlyphs">Retículo</text>
<text x="175.8" y="395.4" textLength="104" lengthAdjust="spacingAndGlyphs">endoplasmático</text>
<text x="153.4" y="471.7" textLength="78" lengthAdjust="spacingAndGlyphs">Mitocondria</text>
<text x="162.5" y="543.1" textLength="59" lengthAdjust="spacingAndGlyphs">Centríolo</text>
<text x="178.2" y="602.8" textLength="71" lengthAdjust="spacingAndGlyphs">Aparato de</text>
<text x="178.2" y="618.8" textLength="33" lengthAdjust="spacingAndGlyphs">Golgi</text>
<text x="203.6" y="675.4" textLength="60.5" lengthAdjust="spacingAndGlyphs">Lisosoma</text>
<text x="663.8" y="344" textLength="44.8" lengthAdjust="spacingAndGlyphs">Núcleo</text>
<text x="702.6" y="402.1" textLength="61.3" lengthAdjust="spacingAndGlyphs">Envoltura</text>
<text x="702.6" y="417.7" textLength="46.8" lengthAdjust="spacingAndGlyphs">nuclear</text>
<text x="695" y="477.3" textLength="57.5" lengthAdjust="spacingAndGlyphs">Nucleolo</text>
<text x="689.4" y="541.6" textLength="63.4" lengthAdjust="spacingAndGlyphs">Ribosoma</text>
<text x="644" y="595.4" textLength="145" lengthAdjust="spacingAndGlyphs">Membrana plasmática</text>
<text x="620.3" y="646.5" textLength="85.5" lengthAdjust="spacingAndGlyphs">Microtúbulos</text>
</g>
<g transform="translate(306.5,33.8) scale(1,1.16)"><text x="0" y="0" font-family="Liberation Sans, sans-serif" font-weight="bold" font-size="24" textLength="294" lengthAdjust="spacingAndGlyphs" fill="#000" stroke="#000" stroke-width="1.1" stroke-linejoin="round" letter-spacing="2.2" word-spacing="4">PARTES DE UNA CéLULA</text></g>
</svg>
</div>
</body></html>
